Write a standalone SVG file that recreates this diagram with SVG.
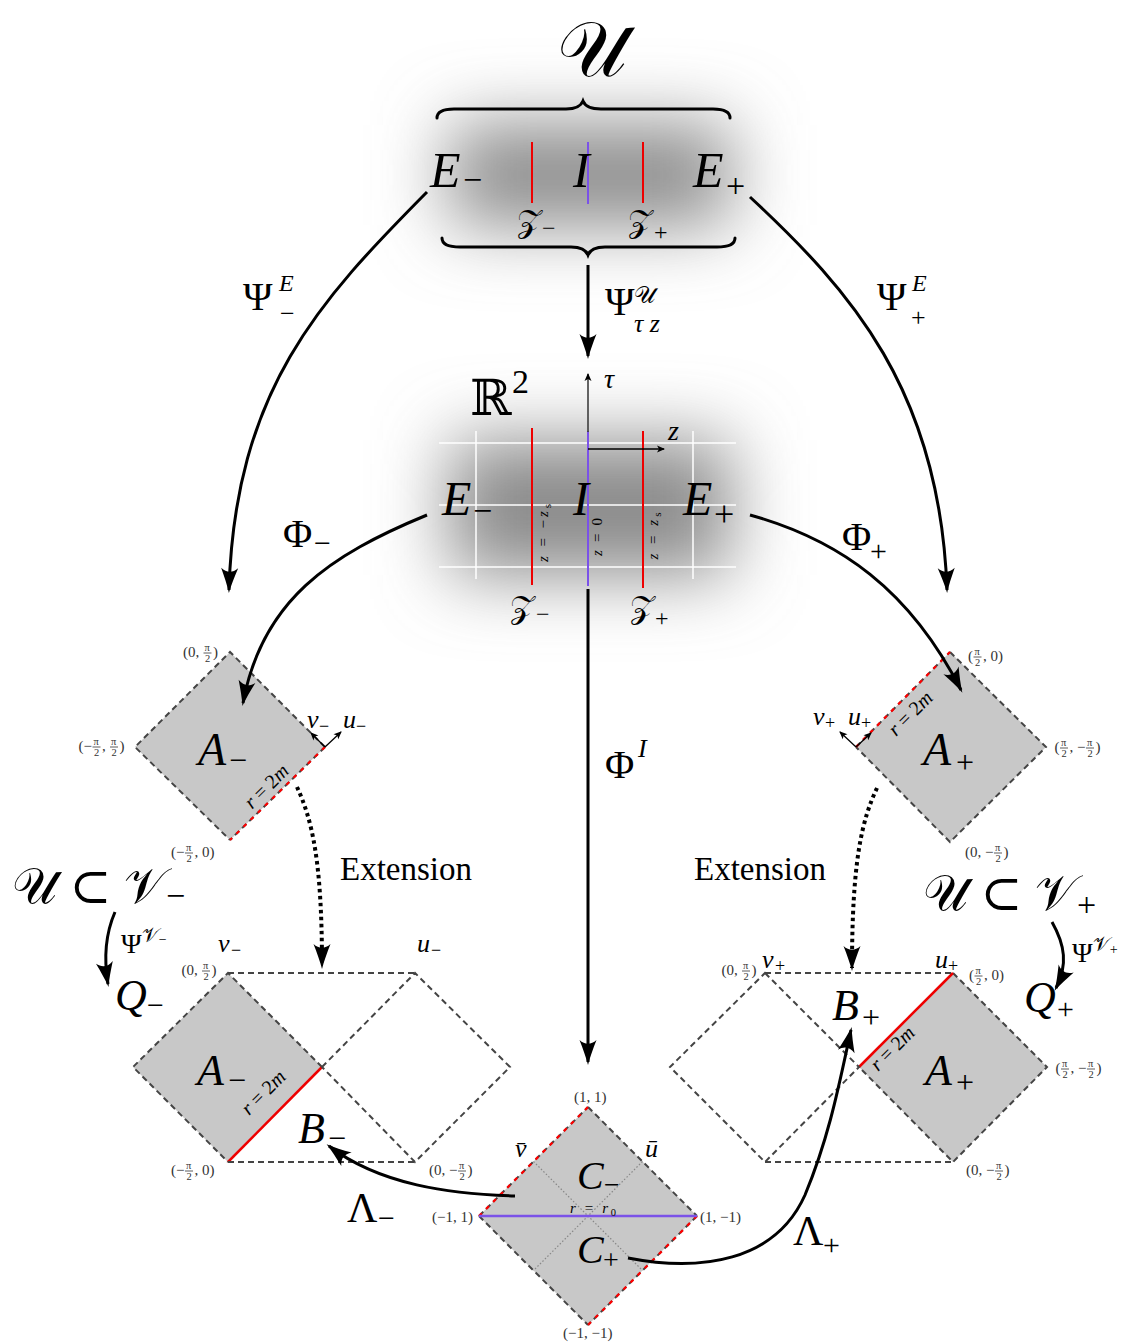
<svg xmlns="http://www.w3.org/2000/svg" width="1132" height="1342" viewBox="0 0 1132 1342">
<defs>
<style>
text{font-family:"Liberation Serif","DejaVu Serif",serif;fill:#000}
.i{font-style:italic}
.cal{font-family:"DejaVu Serif","DejaVu Sans",serif;font-style:normal}
.c{font-size:15px;fill:#333}
.f{font-size:10.5px;fill:#333}
.arr{fill:none;stroke:#000;stroke-width:3;marker-end:url(#ah)}
.dot{fill:none;stroke:#000;stroke-width:4;stroke-dasharray:3.5 3.5;marker-end:url(#ah)}
.dg{fill:none;stroke:#444;stroke-width:2;stroke-dasharray:6 4}
.rd{fill:none;stroke:#f00;stroke-width:2.2;stroke-dasharray:4 6;stroke-dashoffset:0}
.rs{fill:none;stroke:#e00;stroke-width:2.5}
.gf{fill:#c8c8c8}
.wl{stroke:#fff;stroke-width:1.5}
.bar{stroke:#333;stroke-width:0.8}
.pu{stroke:#7b52e8;stroke-width:2}
.red{stroke:#e00;stroke-width:2}
.brace{fill:none;stroke:#000;stroke-width:3;stroke-linecap:round}
.tiny{fill:none;stroke:#000;stroke-width:1.3;marker-end:url(#as)}
</style>
<marker id="ah" markerUnits="userSpaceOnUse" markerWidth="30" markerHeight="20" viewBox="-26 -10 30 20" refX="0" refY="0" orient="auto">
<path d="M3,0 C-5,-2 -13,-5 -22,-8.5 C-17,-3 -17,3 -22,8.5 C-13,5 -5,2 3,0Z" fill="#000"/>
</marker>
<marker id="as" markerUnits="userSpaceOnUse" markerWidth="12" markerHeight="10" viewBox="-9 -5 12 10" refX="0" refY="0" orient="auto">
<path d="M1,0 L-7,-3.5 L-5,0 L-7,3.5Z" fill="#000"/>
</marker>
<filter id="blur" x="-60%" y="-120%" width="220%" height="340%">
<feGaussianBlur stdDeviation="36"/>
</filter>
</defs>
<rect width="1132" height="1342" fill="#fff"/>

<!-- U top region -->
<g id="U-region">
<rect x="450" y="125" width="280" height="100" fill="#8a8a8a" filter="url(#blur)"/>
<text class="cal" x="592" y="76" font-size="78" text-anchor="middle">𝒰</text>
<path class="brace" d="M437,118 C437,111 444,109 454,109 L566,109 C577,109 581,106 583,101 C585,106 590,109 601,109 L713,109 C723,109 730,111 730,118"/>
<path class="brace" d="M442,238 C442,245 450,247 460,247 L571,247 C582,247 586,250 588,255 C590,250 594,247 605,247 L717,247 C727,247 735,245 735,238"/>
<line class="red" x1="532" y1="142" x2="532" y2="203"/>
<line class="pu" x1="588" y1="142" x2="588" y2="204"/>
<line class="red" x1="643" y1="142" x2="643" y2="203"/>
<text class="i" x="430" y="187" font-size="50">E</text><text x="463" y="191" font-size="34">−</text>
<text class="i" x="573" y="187" font-size="50">I</text>
<text class="i" x="693" y="187" font-size="50">E</text><text x="726" y="197" font-size="34">+</text>
<text class="cal" x="517" y="232" font-size="32">𝒵</text><text x="542" y="236" font-size="24">−</text>
<text class="cal" x="628" y="232" font-size="32">𝒵</text><text x="654" y="240" font-size="24">+</text>
</g>

<!-- R2 region -->
<g id="R2-region">
<rect x="450" y="440" width="280" height="135" fill="#8a8a8a" filter="url(#blur)"/>
<line class="wl" x1="439" y1="443" x2="736" y2="443"/>
<line class="wl" x1="439" y1="505" x2="736" y2="505"/>
<line class="wl" x1="439" y1="567" x2="736" y2="567"/>
<line class="wl" x1="476" y1="431" x2="476" y2="579"/>
<line class="wl" x1="693" y1="431" x2="693" y2="579"/>
<line class="red" x1="532" y1="428" x2="532" y2="585"/>
<line class="red" x1="643" y1="431" x2="643" y2="588"/>
<line class="pu" x1="588" y1="431" x2="588" y2="586"/>
<line x1="588" y1="432" x2="588" y2="374" stroke="#333" stroke-width="1.5" marker-end="url(#as)"/>
<line x1="588" y1="449" x2="664" y2="449" stroke="#000" stroke-width="1.5" marker-end="url(#as)"/>
<text x="470" y="415" font-size="50" style="font-family:'DejaVu Serif',serif">ℝ</text><text x="512" y="393" font-size="34">2</text>
<text class="i" x="604" y="388" font-size="28">τ</text>
<text class="i" x="668" y="440" font-size="28">z</text>
<text class="i" x="442" y="515" font-size="48">E</text><text x="473" y="522" font-size="34">−</text>
<text class="i" x="573" y="515" font-size="48">I</text>
<text class="i" x="683" y="515" font-size="48">E</text><text x="714" y="526" font-size="36">+</text>
<text transform="translate(548,533) rotate(-90)" font-size="15" text-anchor="middle" textLength="58" lengthAdjust="spacing"><tspan class="i">z</tspan> = −<tspan class="i">z</tspan><tspan font-size="11" dy="3">s</tspan></text>
<text transform="translate(602,537) rotate(-90)" font-size="15" text-anchor="middle" textLength="38" lengthAdjust="spacing"><tspan class="i">z</tspan> = 0</text>
<text transform="translate(658,536) rotate(-90)" font-size="15" text-anchor="middle" textLength="47" lengthAdjust="spacing"><tspan class="i">z</tspan> = <tspan class="i">z</tspan><tspan font-size="11" dy="3">s</tspan></text>
<text class="cal" x="510" y="618" font-size="32">𝒵</text><text x="536" y="622" font-size="24">−</text>
<text class="cal" x="630" y="618" font-size="32">𝒵</text><text x="655" y="626" font-size="24">+</text>
</g>

<!-- Top-left diamond A- -->
<g id="A-minus-top">
<polygon class="gf" points="230,652 325,747 230,840 135,747"/>
<polyline class="dg" points="325,747 230,652 135,747 230,840"/>
<line class="dg" x1="325" y1="747" x2="230" y2="840"/>
<line class="rd" x1="325" y1="747" x2="230" y2="840"/>
<line class="tiny" x1="325" y1="747" x2="311" y2="733"/>
<line class="tiny" x1="325" y1="747" x2="341" y2="732"/>
<text class="i" x="307" y="728" font-size="26">v</text><text x="319" y="732" font-size="18">−</text>
<text class="i" x="343" y="728" font-size="26">u</text><text x="356" y="732" font-size="18">−</text>
<text class="i" x="198" y="765" font-size="46">A</text><text x="229" y="771" font-size="32">−</text>
<text transform="translate(271,791) rotate(-44.5)" font-size="20" text-anchor="middle"><tspan class="i">r</tspan> = 2<tspan class="i">m</tspan></text>
<text class="c" x="183" y="657">(0, <tspan class="f" x="204.5" y="651">π</tspan><tspan class="f" x="205" y="662">2</tspan><tspan x="213" y="657">)</tspan></text>
<line class="bar" x1="203.5" y1="653" x2="211.5" y2="653"/>
<text class="c" x="78.5" y="751">(−<tspan class="f" x="93.5" y="745">π</tspan><tspan class="f" x="94" y="756">2</tspan><tspan x="102" y="751">, </tspan><tspan class="f" x="111" y="745">π</tspan><tspan class="f" x="111.5" y="756">2</tspan><tspan x="119.5" y="751">)</tspan></text>
<line class="bar" x1="92.5" y1="747" x2="100.5" y2="747"/>
<line class="bar" x1="110" y1="747" x2="118" y2="747"/>
<text class="c" x="171" y="857">(−<tspan class="f" x="186" y="851">π</tspan><tspan class="f" x="186.5" y="862">2</tspan><tspan x="194.5" y="857">, 0)</tspan></text>
<line class="bar" x1="185" y1="853" x2="193" y2="853"/>
</g>

<!-- Top-right diamond A+ -->
<g id="A-plus-top">
<polygon class="gf" points="950,652 1046,747 950,842 856,747"/>
<polyline class="dg" points="950,652 1046,747 950,842 856,747"/>
<line class="dg" x1="856" y1="747" x2="950" y2="652"/>
<line class="rd" x1="856" y1="747" x2="950" y2="652"/>
<line class="tiny" x1="856" y1="747" x2="840" y2="732"/>
<line class="tiny" x1="856" y1="747" x2="871" y2="733"/>
<text class="i" x="813" y="725" font-size="26">v</text><text x="825" y="729" font-size="18">+</text>
<text class="i" x="848" y="725" font-size="26">u</text><text x="861" y="729" font-size="18">+</text>
<text class="i" x="923" y="765" font-size="46">A</text><text x="956" y="773" font-size="32">+</text>
<text transform="translate(915,718) rotate(-45)" font-size="20" text-anchor="middle"><tspan class="i">r</tspan> = 2<tspan class="i">m</tspan></text>
<text class="c" x="968" y="661">(<tspan class="f" x="974.5" y="655">π</tspan><tspan class="f" x="975" y="666">2</tspan><tspan x="983" y="661">, 0)</tspan></text>
<line class="bar" x1="973.5" y1="657" x2="981.5" y2="657"/>
<text class="c" x="1054.5" y="752">(<tspan class="f" x="1061" y="746">π</tspan><tspan class="f" x="1061.5" y="757">2</tspan><tspan x="1069.5" y="752">, −</tspan><tspan class="f" x="1087" y="746">π</tspan><tspan class="f" x="1087.5" y="757">2</tspan><tspan x="1095.5" y="752">)</tspan></text>
<line class="bar" x1="1060" y1="748" x2="1068" y2="748"/>
<line class="bar" x1="1086" y1="748" x2="1094" y2="748"/>
<text class="c" x="965" y="857">(0, −<tspan class="f" x="995" y="851">π</tspan><tspan class="f" x="995.5" y="862">2</tspan><tspan x="1003.5" y="857">)</tspan></text>
<line class="bar" x1="994" y1="853" x2="1002" y2="853"/>
</g>

<!-- Bottom-left: Q- -->
<g id="Q-minus">
<polygon class="gf" points="228,973 322,1067 228,1162 133,1067"/>
<polyline class="dg" points="322,1067 228,973 133,1067 228,1162"/>
<line class="rs" x1="322" y1="1067" x2="228" y2="1162"/>
<line class="dg" x1="228" y1="973" x2="415" y2="973"/>
<line class="dg" x1="228" y1="1162" x2="415" y2="1162"/>
<polygon class="dg" points="322,1067 415,973 510,1067 415,1162"/>
<text class="i" x="218" y="952" font-size="26">v</text><text x="231" y="956" font-size="18">−</text>
<text class="i" x="417" y="952" font-size="26">u</text><text x="431" y="956" font-size="18">−</text>
<text class="i" x="197" y="1085" font-size="44">A</text><text x="228" y="1091" font-size="32">−</text>
<text class="i" x="298" y="1143" font-size="44">B</text><text x="328" y="1149" font-size="32">−</text>
<text transform="translate(268,1097) rotate(-45)" font-size="20" text-anchor="middle"><tspan class="i">r</tspan> = 2<tspan class="i">m</tspan></text>
<text x="12" y="903" font-size="50"><tspan class="cal">𝒰</tspan> ⊂ <tspan class="cal">𝒱</tspan><tspan font-size="34" dy="4">−</tspan></text>
<text x="121" y="953" font-size="28">Ψ<tspan class="cal" font-size="20" dy="-11">𝒱</tspan><tspan font-size="14" dy="2">−</tspan></text>
<text class="i" x="115" y="1010" font-size="44">Q</text><text x="147" y="1015" font-size="30">−</text>
<text class="c" x="181.5" y="975">(0, <tspan class="f" x="203" y="969">π</tspan><tspan class="f" x="203.5" y="980">2</tspan><tspan x="211.5" y="975">)</tspan></text>
<line class="bar" x1="202" y1="971" x2="210" y2="971"/>
<text class="c" x="171" y="1175">(−<tspan class="f" x="186" y="1169">π</tspan><tspan class="f" x="186.5" y="1180">2</tspan><tspan x="194.5" y="1175">, 0)</tspan></text>
<line class="bar" x1="185" y1="1171" x2="193" y2="1171"/>
<text class="c" x="429" y="1175">(0, −<tspan class="f" x="459" y="1169">π</tspan><tspan class="f" x="459.5" y="1180">2</tspan><tspan x="467.5" y="1175">)</tspan></text>
<line class="bar" x1="458" y1="1171" x2="466" y2="1171"/>
</g>

<!-- Bottom-right: Q+ -->
<g id="Q-plus">
<polygon class="gf" points="953,973 1047,1067 953,1162 859,1067"/>
<polyline class="dg" points="953,973 1047,1067 953,1162 859,1067"/>
<line class="rs" x1="859" y1="1067" x2="953" y2="973"/>
<line class="dg" x1="765" y1="973" x2="953" y2="973"/>
<line class="dg" x1="765" y1="1162" x2="953" y2="1162"/>
<polygon class="dg" points="765,973 859,1067 765,1162 670,1067"/>
<text class="i" x="762" y="968" font-size="26">v</text><text x="775" y="972" font-size="18">+</text>
<text class="i" x="935" y="968" font-size="26">u</text><text x="948" y="972" font-size="18">+</text>
<text class="i" x="925" y="1085" font-size="44">A</text><text x="956" y="1093" font-size="32">+</text>
<text class="i" x="832" y="1020" font-size="44">B</text><text x="862" y="1028" font-size="32">+</text>
<text transform="translate(897,1053) rotate(-45)" font-size="20" text-anchor="middle"><tspan class="i">r</tspan> = 2<tspan class="i">m</tspan></text>
<text x="923" y="910" font-size="50"><tspan class="cal">𝒰</tspan> ⊂ <tspan class="cal">𝒱</tspan><tspan font-size="34" dy="6">+</tspan></text>
<text x="1072" y="962" font-size="28">Ψ<tspan class="cal" font-size="20" dy="-11">𝒱</tspan><tspan font-size="14" dy="3">+</tspan></text>
<text class="i" x="1024" y="1012" font-size="44">Q</text><text x="1057" y="1019" font-size="30">+</text>
<text class="c" x="721.5" y="975">(0, <tspan class="f" x="743" y="969">π</tspan><tspan class="f" x="743.5" y="980">2</tspan><tspan x="751.5" y="975">)</tspan></text>
<line class="bar" x1="742" y1="971" x2="750" y2="971"/>
<text class="c" x="969" y="980">(<tspan class="f" x="975.5" y="974">π</tspan><tspan class="f" x="976" y="985">2</tspan><tspan x="984" y="980">, 0)</tspan></text>
<line class="bar" x1="974.5" y1="976" x2="982.5" y2="976"/>
<text class="c" x="1055.5" y="1073">(<tspan class="f" x="1062" y="1067">π</tspan><tspan class="f" x="1062.5" y="1078">2</tspan><tspan x="1070.5" y="1073">, −</tspan><tspan class="f" x="1088" y="1067">π</tspan><tspan class="f" x="1088.5" y="1078">2</tspan><tspan x="1096.5" y="1073">)</tspan></text>
<line class="bar" x1="1061" y1="1069" x2="1069" y2="1069"/>
<line class="bar" x1="1087" y1="1069" x2="1095" y2="1069"/>
<text class="c" x="966" y="1175">(0, −<tspan class="f" x="996" y="1169">π</tspan><tspan class="f" x="996.5" y="1180">2</tspan><tspan x="1004.5" y="1175">)</tspan></text>
<line class="bar" x1="995" y1="1171" x2="1003" y2="1171"/>
</g>

<!-- Center diamond C -->
<g id="C-diamond">
<polygon class="gf" points="588,1107 697,1216 588,1325 479,1216"/>
<line x1="533.5" y1="1161.5" x2="642.5" y2="1270.5" stroke="#888" stroke-width="1.2" stroke-dasharray="1.5 2"/>
<line x1="642.5" y1="1161.5" x2="533.5" y2="1270.5" stroke="#888" stroke-width="1.2" stroke-dasharray="1.5 2"/>
<line class="dg" x1="588" y1="1107" x2="697" y2="1216"/>
<line class="dg" x1="479" y1="1216" x2="588" y2="1325"/>
<line class="dg" x1="479" y1="1216" x2="588" y2="1107"/>
<line class="rd" x1="479" y1="1216" x2="588" y2="1107"/>
<line class="dg" x1="697" y1="1216" x2="588" y2="1325"/>
<line class="rd" x1="697" y1="1216" x2="588" y2="1325"/>
<line x1="479" y1="1216" x2="697" y2="1216" stroke="#7b52e8" stroke-width="2.5"/>
<text class="i" x="515" y="1157" font-size="26">v̄</text>
<text class="i" x="645" y="1157" font-size="26">ū</text>
<text class="i" x="577" y="1189" font-size="40">C</text><text x="604" y="1194" font-size="28">−</text>
<text class="i" x="577" y="1263" font-size="40">C</text><text x="603" y="1269" font-size="28">+</text>
<text x="570" y="1213" font-size="15" textLength="46" lengthAdjust="spacing"><tspan class="i">r</tspan> = <tspan class="i">r</tspan><tspan font-size="10.5" dy="3">0</tspan></text>
<text class="c" x="574" y="1102">(1, 1)</text>
<text class="c" x="432" y="1222">(−1, 1)</text>
<text class="c" x="700" y="1222">(1, −1)</text>
<text class="c" x="563" y="1338">(−1, −1)</text>
</g>

<!-- Connectors -->
<g id="connectors">
<path class="arr" d="M588,265 L588,356"/>
<path class="arr" d="M427,192 C320,300 235,390 229,590"/>
<path class="arr" d="M750,197 C850,290 940,390 947,590"/>
<path class="arr" d="M427,515 C330,555 262,600 243,703"/>
<path class="arr" d="M750,515 C840,540 910,590 961,690"/>
<path class="arr" d="M588,589 L588,1062"/>
<path class="dot" d="M297,787 C312,820 322,860 322,966"/>
<path class="dot" d="M877,788 C862,820 852,860 852,968"/>
<path class="arr" d="M115,912 C105,935 104,960 108,984"/>
<path class="arr" d="M1052,922 C1065,945 1068,965 1056,988"/>
<path class="arr" d="M515,1196 C450,1194 380,1185 329,1146"/>
<path class="arr" d="M628,1258 C700,1272 775,1262 805,1195 C830,1135 840,1080 851,1030"/>
</g>

<!-- Connector labels -->
<g id="labels">
<text x="605" y="315" font-size="40">Ψ</text><text class="cal" x="634" y="303" font-size="24">𝒰</text><text class="i" x="634" y="332" font-size="26">τ z</text>
<text x="243" y="310" font-size="40">Ψ</text><text class="i" x="279" y="291" font-size="24">E</text><text x="280" y="322" font-size="26">−</text>
<text x="877" y="310" font-size="40">Ψ</text><text class="i" x="912" y="291" font-size="24">E</text><text x="911" y="326" font-size="26">+</text>
<text x="283" y="547" font-size="40">Φ</text><text x="314" y="553" font-size="30">−</text>
<text x="842" y="550" font-size="40">Φ</text><text x="870" y="561" font-size="30">+</text>
<text x="605" y="778" font-size="40">Φ</text><text class="i" x="638" y="757" font-size="26">I</text>
<text x="340" y="880" font-size="33">Extension</text>
<text x="694" y="880" font-size="33">Extension</text>
<text x="347" y="1222" font-size="42">Λ</text><text x="378" y="1228" font-size="30">−</text>
<text x="793" y="1245" font-size="42">Λ</text><text x="823" y="1255" font-size="30">+</text>
</g>
</svg>
